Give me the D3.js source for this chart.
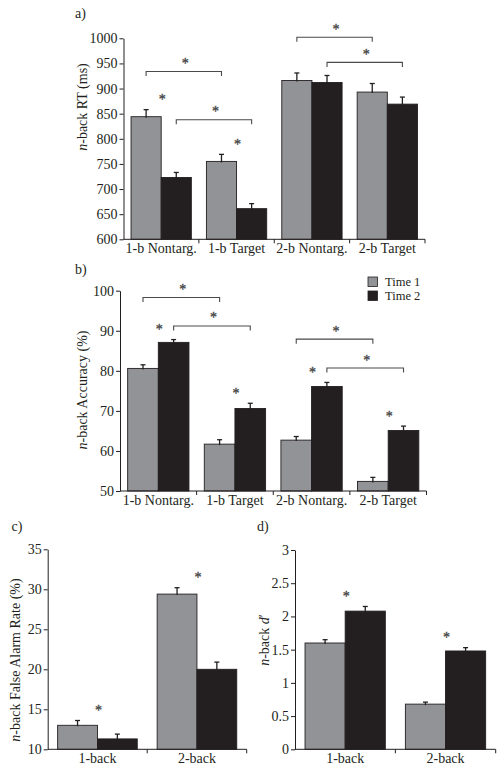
<!DOCTYPE html>
<html><head><meta charset="utf-8">
<script src="https://cdn.jsdelivr.net/npm/d3@7"></script>
<style>
body{margin:0;background:#fff}
svg{display:block;background:#fff}
svg text{font-family:'Liberation Serif','Tinos','Times New Roman','DejaVu Serif',serif !important;fill:#231f20}
svg text.star{fill:#4a4a4a;stroke:#4a4a4a;stroke-width:0.35px}
</style>
</head><body>
<svg id="chart" width="504" height="773"></svg>
<script>
// ---------- DATA ----------
const series = ["Time 1", "Time 2"];

// a) RT
const rtCategories = ["1-b Nontarg.", "1-b Target", "2-b Nontarg.", "2-b Target"];
const rtTime1 = [844, 755, 916, 893];
const rtTime2 = [723, 661, 912, 869];
const rtTime1Err = [14, 14, 15, 17];
const rtTime2Err = [10, 10, 14, 14];
const rtTicks = [600, 650, 700, 750, 800, 850, 900, 950, 1000];
const rtTimeSig = [true, true, false, false];
const rtBrackets = [
  {from: 0, to: 1, series: "Time 1", level: 934},
  {from: 0, to: 1, series: "Time 2", level: 838},
  {from: 2, to: 3, series: "Time 1", level: 1002},
  {from: 2, to: 3, series: "Time 2", level: 952}
];

// b) Accuracy
const accCategories = ["1-b Nontarg.", "1-b Target", "2-b Nontarg.", "2-b Target"];
const accTime1 = [80.6, 61.7, 62.7, 52.4];
const accTime2 = [87.1, 70.6, 76.1, 65.1];
const accTime1Err = [0.9, 1.1, 0.9, 1.0];
const accTime2Err = [0.7, 1.3, 1.0, 1.1];
const accTicks = [50, 60, 70, 80, 90, 100];
const accTimeSig = [true, true, true, true];
const accBrackets = [
  {from: 0, to: 1, series: "Time 1", level: 98.3},
  {from: 0, to: 1, series: "Time 2", level: 91.2},
  {from: 2, to: 3, series: "Time 1", level: 87.9},
  {from: 2, to: 3, series: "Time 2", level: 80.7}
];

// c) False alarm rate
const faCategories = ["1-back", "2-back"];
const faTime1 = [13.0, 29.4];
const faTime2 = [11.3, 20.0];
const faTime1Err = [0.6, 0.8];
const faTime2Err = [0.6, 0.9];
const faTicks = [10, 15, 20, 25, 30, 35];
const faTimeSig = [true, true];

// d) d'
const dpCategories = ["1-back", "2-back"];
const dpTime1 = [1.60, 0.68];
const dpTime2 = [2.08, 1.48];
const dpTime1Err = [0.05, 0.03];
const dpTime2Err = [0.07, 0.05];
const dpTicks = [0, 0.5, 1, 1.5, 2, 2.5, 3];
const dpTimeSig = [true, true];

const COLORS = {"Time 1": "#929396", "Time 2": "#231f20"};
const INK = "#231f20";
const FS = 14;

// ---------- DRAW ----------
const svg = d3.select("#chart");

function panel(o) {
  const g = svg.append("g");
  const x = d3.scaleBand().domain(o.categories).range(o.xr).paddingInner(0).paddingOuter(0);
  const xs = d3.scaleBand().domain(series).range([0, x.bandwidth()]).paddingInner(0).paddingOuter(0.25);
  const y = d3.scaleLinear().domain(o.yd).range(o.yr);
  const base = y(o.yd[0]);

  series.forEach((s, si) => {
    const vals = o.values[si], errs = o.errors[si];
    const cx = c => x(c) + xs(s) + xs.bandwidth() / 2;
    g.append("g").selectAll("rect").data(o.categories).join("rect")
      .attr("x", c => x(c) + xs(s))
      .attr("y", (c, i) => y(vals[i]))
      .attr("width", xs.bandwidth())
      .attr("height", (c, i) => base - y(vals[i]))
      .attr("fill", COLORS[s])
      .attr("stroke", INK).attr("stroke-width", 0.9);
    const eb = g.append("g").attr("stroke", INK).attr("stroke-width", 1.3);
    eb.selectAll("line.v").data(o.categories).join("line").attr("class", "v")
      .attr("x1", cx).attr("x2", cx)
      .attr("y1", (c, i) => y(vals[i]) + 1).attr("y2", (c, i) => y(vals[i] + errs[i]));
    eb.selectAll("line.h").data(o.categories).join("line").attr("class", "h")
      .attr("x1", c => cx(c) - 2.5).attr("x2", c => cx(c) + 2.5)
      .attr("y1", (c, i) => y(vals[i] + errs[i])).attr("y2", (c, i) => y(vals[i] + errs[i]));
  });

  // y axis
  const ya = g.append("g").attr("transform", `translate(${o.xr[0]},0)`)
    .call(d3.axisLeft(y).tickValues(o.ticks).tickSize(4).tickSizeOuter(0).tickPadding(2)
      .tickFormat(o.fmt || (d => d)));
  ya.attr("font-family", null).attr("font-size", FS);
  ya.select(".domain").attr("stroke", INK);
  ya.selectAll(".tick line").attr("stroke", INK);
  ya.selectAll(".tick text").attr("fill", INK);

  // x axis line + boundary ticks
  g.append("line").attr("x1", o.xr[0]).attr("x2", o.xr[1]).attr("y1", base).attr("y2", base)
    .attr("stroke", INK);
  g.append("g").selectAll("line").data(o.categories).join("line")
    .attr("x1", c => x(c) + x.bandwidth()).attr("x2", c => x(c) + x.bandwidth())
    .attr("y1", base).attr("y2", base + 4).attr("stroke", INK);
  const xa = g.append("g").attr("transform", `translate(0,${base})`)
    .call(d3.axisBottom(x).tickSize(0).tickPadding(4));
  xa.attr("font-family", null).attr("font-size", FS);
  xa.select(".domain").remove();
  xa.selectAll(".tick text").attr("fill", INK);

  // time significance stars
  const starG = g.append("g").attr("class", "stars");
  o.categories.forEach((c, i) => {
    if (!o.sig[i]) return;
    const top = Math.min(y(o.values[0][i] + o.errors[0][i]), y(o.values[1][i] + o.errors[1][i]));
    starG.append("text").attr("class", "star").attr("x", x(c) + x.bandwidth() / 2 + 1).attr("y", top - 13 + 7.5)
      .attr("text-anchor", "middle").attr("font-size", FS).text("*");
  });

  // brackets
  (o.brackets || []).forEach(b => {
    const x1 = x(o.categories[b.from]) + xs(b.series) + xs.bandwidth() / 2;
    const x2 = x(o.categories[b.to]) + xs(b.series) + xs.bandwidth() / 2;
    const yy = y(b.level);
    g.append("path").attr("d", `M${x1},${yy + 4.5}V${yy}H${x2}V${yy + 4.5}`)
      .attr("fill", "none").attr("stroke", "#4a4a4a").attr("stroke-width", 1.1);
    starG.append("text").attr("class", "star").attr("x", (x1 + x2) / 2 + 1.5).attr("y", yy - 11 + 7.5)
      .attr("text-anchor", "middle").attr("font-size", FS).text("*");
  });

  // panel letter
  g.append("text").attr("x", o.letterPos[0]).attr("y", o.letterPos[1]).attr("font-size", FS).text(o.letter);

  // y label
  const yl = g.append("text")
    .attr("transform", `translate(${o.ylabPos[0]},${o.ylabPos[1]}) rotate(-90)`)
    .attr("text-anchor", "middle").attr("dy", "0.35em").attr("font-size", FS);
  yl.append("tspan").attr("font-style", "italic").text("n");
  yl.append("tspan").text(o.ylab);
  if (o.ylabTail) {
    yl.append("tspan").attr("font-style", "italic").text(o.ylabTail[0]);
    yl.append("tspan").text(o.ylabTail[1]);
  }
}

panel({
  categories: rtCategories, values: [rtTime1, rtTime2], errors: [rtTime1Err, rtTime2Err],
  ticks: rtTicks, yd: [600, 1000], xr: [123.5, 425], yr: [239.3, 38.3], sig: rtTimeSig,
  brackets: rtBrackets, letter: "a)", letterPos: [75, 18], ylab: "-back RT (ms)", ylabPos: [82, 107]
});
panel({
  categories: accCategories, values: [accTime1, accTime2], errors: [accTime1Err, accTime2Err],
  ticks: accTicks, yd: [50, 100], xr: [120, 426.5], yr: [491, 290.7], sig: accTimeSig,
  brackets: accBrackets, letter: "b)", letterPos: [75, 274], ylab: "-back Accuracy (%)", ylabPos: [82, 390]
});
panel({
  categories: faCategories, values: [faTime1, faTime2], errors: [faTime1Err, faTime2Err],
  ticks: faTicks, yd: [10, 35], xr: [47.7, 246.7], yr: [749.3, 549.3], sig: faTimeSig,
  letter: "c)", letterPos: [11.5, 531], ylab: "-back False Alarm Rate (%)", ylabPos: [15, 660]
});
panel({
  categories: dpCategories, values: [dpTime1, dpTime2], errors: [dpTime1Err, dpTime2Err],
  ticks: dpTicks, yd: [0, 3], xr: [295, 495.7], yr: [749.3, 550], sig: dpTimeSig,
  letter: "d)", letterPos: [257, 531], ylab: "-back ", ylabTail: ["d", "′"], ylabPos: [264, 640]
});

// legend
const lg = svg.append("g");
series.forEach((s, i) => {
  lg.append("rect").attr("x", 368).attr("y", 277 + i * 14).attr("width", 9.5).attr("height", 9.5)
    .attr("fill", COLORS[s]).attr("stroke", INK).attr("stroke-width", 0.8);
  lg.append("text").attr("x", 385).attr("y", 286 + i * 13.5).attr("font-size", 12.5).text(s);
});
</script>
</body></html>
